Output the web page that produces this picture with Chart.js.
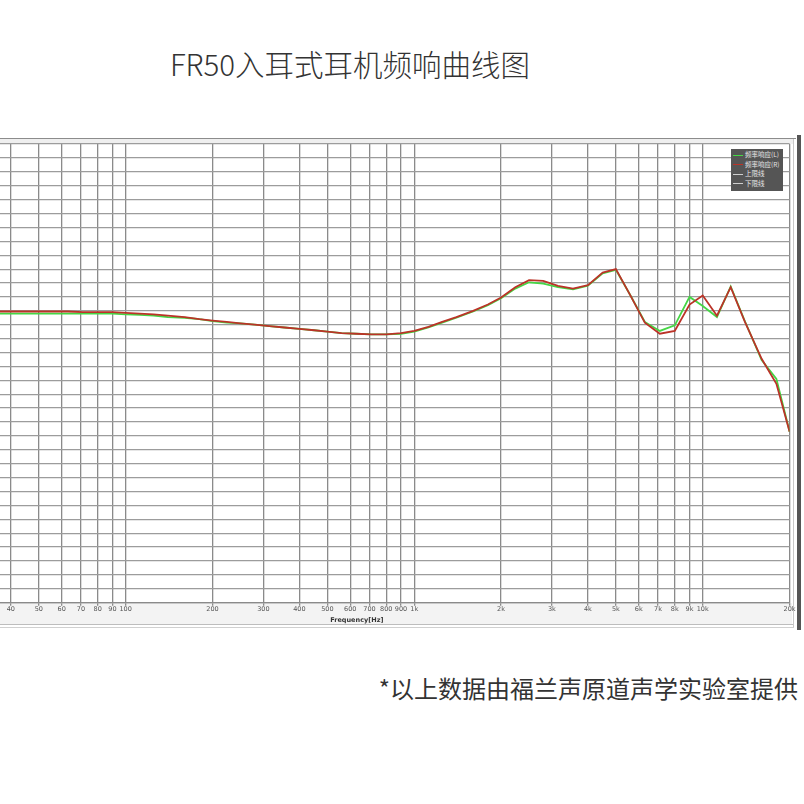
<!DOCTYPE html>
<html>
<head>
<meta charset="utf-8">
<script src="https://cdn.jsdelivr.net/npm/chart.js@4"></script>
<style>
  html, body { margin: 0; padding: 0; background: #fff; }
  body { width: 804px; height: 804px; position: relative; overflow: hidden; font-family: "Noto Sans CJK SC", "Noto Sans", sans-serif; }
  .title { position: absolute; left: 0; width: 700px; top: 42px; text-align: center; font-size: 29.5px; font-weight: 300; color: #333; white-space: nowrap; }
  .note { position: absolute; right: 6px; top: 670px; font-size: 24px; color: #333; white-space: nowrap; }
  .box { position: absolute; }
  #wrap { position: absolute; left: -76px; top: 130px; width: 880px; height: 510px; }
  .legend { position: absolute; left: 731px; top: 149px; width: 52px; height: 42px; background: #555; padding-top: 1px; box-sizing: border-box; }
  .legend div { height: 9.6px; line-height: 9.6px; font-size: 6.5px; color: #e6e6e6; white-space: nowrap; position: relative; padding-left: 14px; }
  .legend span { position: absolute; left: 2px; top: 4.5px; width: 10px; height: 1px; }
</style>
</head>
<body>
<div class="title">FR50入耳式耳机频响曲线图</div>

<div class="box" style="left:0;top:137.5px;width:796px;height:1.5px;background:#8c8c8c"></div>
<div class="box" style="left:0;top:139px;width:794px;height:5px;background:#efefef"></div>
<div class="box" style="left:0;top:603px;width:792px;height:21px;background:#f3f3f3"></div>
<div class="box" style="left:0;top:624px;width:794px;height:1px;background:#bdbdbd"></div>
<div class="box" style="left:0;top:627px;width:794px;height:1px;background:#d0d0d0"></div>
<div class="box" style="left:792.5px;top:139px;width:1px;height:488px;background:#c8c8c8"></div>
<div class="box" style="left:797px;top:135px;width:3.5px;height:495px;background:#555"></div>

<div id="wrap"><canvas id="fr"></canvas></div>

<div class="legend" id="legend"></div>

<div class="note">*以上数据由福兰声原道声学实验室提供</div>

<script>
// frequency points (Hz), 1/6 octave
const freqs = [35.5, 40, 45, 50, 56, 63, 71, 80, 90, 100, 112, 125, 140, 160, 180, 200, 224, 250, 280, 315,
  355, 400, 450, 500, 560, 630, 710, 800, 900, 1000, 1120, 1250, 1400, 1600, 1800, 2000, 2240, 2500, 2800, 3150,
  3550, 4000, 4500, 5000, 5600, 6300, 7100, 8000, 9000, 10000, 11200, 12500, 14000, 16000, 18000, 20000];

// response in dB (2 dB per grid line)
const rightCh = [81.9, 81.9, 81.9, 81.9, 81.9, 81.9, 81.8, 81.8, 81.8, 81.7, 81.6, 81.5, 81.3, 81.1, 80.8, 80.6, 80.4, 80.2, 80.0, 79.8,
  79.6, 79.4, 79.2, 79.0, 78.8, 78.7, 78.6, 78.6, 78.8, 79.1, 79.7, 80.4, 81.1, 82.0, 82.9, 83.9, 85.4, 86.4, 86.3, 85.6,
  85.2, 85.7, 87.5, 88.0, 84.3, 80.3, 78.7, 79.1, 82.9, 84.2, 81.3, 85.4, 80.4, 75.1, 71.5, 64.6];
const leftCh = [81.6, 81.6, 81.6, 81.6, 81.6, 81.6, 81.6, 81.6, 81.6, 81.5, 81.4, 81.3, 81.1, 81.0, 80.8, 80.5, 80.3, 80.2, 80.0, 79.8,
  79.6, 79.4, 79.2, 79.0, 78.8, 78.7, 78.6, 78.6, 78.7, 79.0, 79.6, 80.3, 81.0, 81.9, 82.8, 83.8, 85.2, 86.1, 85.9, 85.4,
  85.1, 85.6, 87.4, 87.9, 84.3, 80.4, 79.1, 79.9, 84.0, 82.7, 81.1, 85.5, 80.5, 74.9, 72.2, 64.6];
const upperLimit = [];
const lowerLimit = [];

const xTicks = [40, 50, 60, 70, 80, 90, 100, 200, 300, 400, 500, 600, 700, 800, 900, 1000,
  2000, 3000, 4000, 5000, 6000, 7000, 8000, 9000, 10000, 20000];
const legendNames = ['频率响应(L)', '频率响应(R)', '上限线', '下限线'];
const legendColors = ['#45d645', '#bb3328', '#cfcfcf', '#cfcfcf'];

function fmtFreq(v) {
  return v >= 1000 ? (v / 1000) + 'k' : String(v);
}

const toPoints = (vals) => vals.map((v, i) => ({ x: freqs[i], y: v }));

const chart = new Chart(document.getElementById('fr'), {
  type: 'line',
  data: {
    datasets: [
      { label: legendNames[0], data: toPoints(leftCh), borderColor: legendColors[0], borderWidth: 1.8, order: 2 },
      { label: legendNames[1], data: toPoints(rightCh), borderColor: legendColors[1], borderWidth: 1.8, order: 1 },
      { label: legendNames[2], data: upperLimit, borderColor: legendColors[2], order: 3 },
      { label: legendNames[3], data: lowerLimit, borderColor: legendColors[3], order: 4 }
    ]
  },
  options: {
    responsive: true,
    maintainAspectRatio: false,
    animation: false,
    layout: { padding: { left: 0, right: 14.4, top: 14, bottom: 13.3 } },
    elements: { point: { radius: 0 }, line: { tension: 0 } },
    plugins: { legend: { display: false }, tooltip: { enabled: false } },
    scales: {
      x: {
        type: 'logarithmic',
        min: 20,
        max: 20000,
        afterBuildTicks: (scale) => { scale.ticks = xTicks.map(v => ({ value: v })); },
        afterFit: (scale) => { scale.height = 24; },
        ticks: {
          autoSkip: false,
          maxRotation: 0,
          padding: 0,
          color: '#555',
          font: { family: 'DejaVu Sans', size: 6.5 },
          callback: (v) => fmtFreq(v)
        },
        grid: { color: '#8a8a8a', lineWidth: 1.3, tickLength: 3 },
        border: { display: true, color: '#8a8a8a', width: 1.3 },
        title: {
          display: true,
          text: 'Frequency[Hz]',
          color: '#333',
          font: { family: 'DejaVu Sans', size: 6.5, weight: 'bold' },
          padding: { top: 0, bottom: 2.5 }
        }
      },
      y: {
        min: 40,
        max: 106,
        afterFit: (scale) => { scale.width = 0; },
        ticks: { display: false, stepSize: 2 },
        grid: { color: '#9c9c9c', lineWidth: 1.2, drawTicks: false },
        border: { display: false }
      }
    }
  }
});

// legend box like the measuring software's
const legendBox = document.getElementById('legend');
legendNames.forEach((name, i) => {
  const row = document.createElement('div');
  const swatch = document.createElement('span');
  swatch.style.background = legendColors[i];
  row.appendChild(swatch);
  row.appendChild(document.createTextNode(name));
  legendBox.appendChild(row);
});
</script>
</body>
</html>
